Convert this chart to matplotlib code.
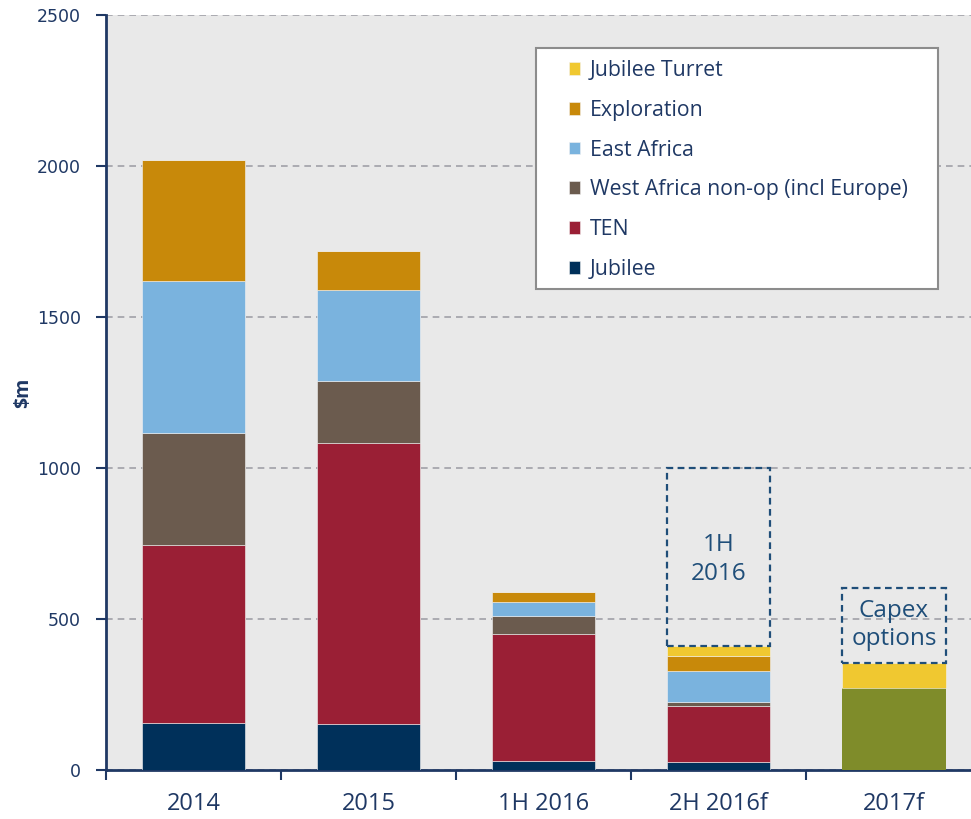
''' Tullow capex by segment, 2014-2017f '''

import matplotlib.pyplot as plt
import numpy as np
from matplotlib.patches import Rectangle

categories = ['2014', '2015', '1H 2016', '2H 2016f', '2017f']

# stacked segments, bottom to top ($m)
jubilee = [155, 152, 30, 26, 0]
ten = [590, 931, 420, 186, 0]
west_africa = [371, 205, 60, 13, 0]
east_africa = [503, 301, 46, 103, 0]
exploration = [401, 130, 33, 49, 0]
turret = [0, 0, 0, 34, 82]
options_2017 = [0, 0, 0, 0, 272]

series = [
    ('Jubilee', jubilee, '#00305a'),
    ('TEN', ten, '#9a1f35'),
    ('West Africa non-op (incl Europe)', west_africa, '#6b5b4e'),
    ('East Africa', east_africa, '#7ab3de'),
    ('Exploration', exploration, '#c8890a'),
    ('Jubilee Turret', turret, '#f0c830'),
]

navy = '#1f3864'
box_blue = '#1f4e79'

fig = plt.figure(figsize=(9.71, 8.19), dpi=100)
ax = fig.add_axes([0.109, 0.0598, 0.891, 0.922])
ax.set_facecolor('#e9e9e9')

x = np.arange(len(categories))
width = 0.59

# 2017f capex options sit at the base in green
ax.bar(x, options_2017, width, color='#7f8c2a', edgecolor='none', zorder=3)

bottom = np.zeros(len(categories))
handles = {}
for name, vals, col in series:
    vals = np.array(vals, dtype=float)
    base = bottom.copy()
    if name == 'Jubilee Turret':
        base = base + np.array(options_2017)
    b = ax.bar(x, vals, width, bottom=base, color=col,
               edgecolor='#f2f2f2', linewidth=0.4, zorder=3, label=name)
    handles[name] = b
    bottom = bottom + vals

# dashed call-out boxes
totals = bottom + np.array(options_2017)
ax.add_patch(Rectangle((x[3] - width / 2, totals[3]), width, 1000 - totals[3],
                       fill=False, ls=(0, (3, 2)), lw=1.6, ec=box_blue, zorder=4))
ax.text(x[3], 697, '1H\n2016', ha='center', va='center', fontsize=17.5,
        color=box_blue, family='Open Sans', linespacing=1.3)
ax.add_patch(Rectangle((x[4] - width / 2, totals[4]), width, 603 - totals[4],
                       fill=False, ls=(0, (3, 2)), lw=1.6, ec=box_blue, zorder=4))
ax.text(x[4], 480, 'Capex\noptions', ha='center', va='center', fontsize=17.5,
        color=box_blue, family='Open Sans', linespacing=1.25)

ax.set_xlim(-0.5, 4.44)
ax.set_ylim(0, 2500)
ax.set_yticks(range(0, 2501, 500))
ax.yaxis.grid(True, ls=(0, (4, 3)), color='#a0a0a8', lw=1.2, zorder=0)
ax.set_axisbelow(True)

ax.set_xticks(x)
ax.set_xticklabels(categories, fontsize=17, color=navy, family='Open Sans')
ax.set_xticks(np.arange(-0.5, len(categories) - 1), minor=True)
ax.tick_params(axis='x', which='major', length=0, pad=16)
ax.tick_params(axis='x', which='minor', length=7, width=1.5, color=navy)
ax.tick_params(axis='y', length=7, width=1.5, color=navy, labelcolor=navy,
               labelsize=12.5, pad=11)
for lab in ax.get_yticklabels():
    lab.set_family('DejaVu Sans')

for side in ['top', 'right']:
    ax.spines[side].set_visible(False)
for side in ['left', 'bottom']:
    ax.spines[side].set_color(navy)
    ax.spines[side].set_linewidth(2)

ax.set_ylabel('$m', fontsize=14, fontweight='bold', color=navy,
              family='Open Sans', labelpad=3)

# legend frame drawn separately so the inner padding can match
ax.add_patch(Rectangle((0.497, 0.637), 0.465, 0.319, transform=ax.transAxes,
                       facecolor='white', edgecolor='#8c8c8c', lw=1.5,
                       zorder=5))
order = ['Jubilee Turret', 'Exploration', 'East Africa',
         'West Africa non-op (incl Europe)', 'TEN', 'Jubilee']
leg = ax.legend([handles[n] for n in order], order,
                loc='upper left', bbox_to_anchor=(0.535, 0.940),
                frameon=False, handlelength=0.55, handleheight=0.55,
                labelspacing=0.88, borderpad=0, borderaxespad=0,
                handletextpad=0.45,
                prop={'family': 'Open Sans', 'size': 15.3})
leg.set_zorder(6)
for t in leg.get_texts():
    t.set_color(navy)

plt.savefig('out.png', dpi=100)
